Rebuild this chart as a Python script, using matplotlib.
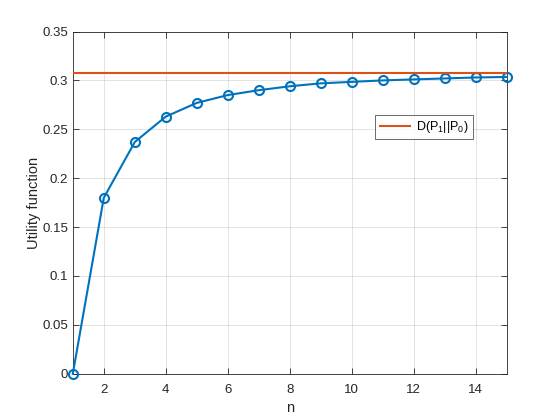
import matplotlib
matplotlib.use("Agg")
import matplotlib.pyplot as plt

n_values = list(range(1, 16))
utility = [0.0, 0.180, 0.237, 0.263, 0.277, 0.285, 0.290, 0.294, 0.297,
           0.2985, 0.300, 0.301, 0.302, 0.303, 0.3035]
kl_divergence = 0.3077
x_ticks = [2, 4, 6, 8, 10, 12, 14]
y_ticks = [0, 0.05, 0.1, 0.15, 0.2, 0.25, 0.3, 0.35]
y_tick_labels = ["0", "0.05", "0.1", "0.15", "0.2", "0.25", "0.3", "0.35"]

plt.rcParams['font.family'] = ['Liberation Sans', 'DejaVu Sans']
plt.rcParams['mathtext.fontset'] = 'custom'
plt.rcParams['mathtext.rm'] = 'Liberation Sans'
plt.rcParams['mathtext.it'] = 'Liberation Sans'
plt.rcParams['mathtext.bf'] = 'Liberation Sans'

fig = plt.figure(figsize=(5.6, 4.2), dpi=100)
ax = fig.add_axes([0.13, 0.11, 0.775, 0.815])

ax.plot(n_values, utility, color='#0072BD', linewidth=1.5, marker='o',
        markersize=6.5, markerfacecolor='none', markeredgewidth=1.5,
        clip_on=False, zorder=3)
ax.axhline(kl_divergence, color='#D95319', linewidth=1.5,
           label=r'D(P$_{\mathrm{1}}$||P$_{\mathrm{0}}$)', zorder=3)

ax.set_xlim(1, 15)
ax.set_ylim(0, 0.35)
ax.set_xticks(x_ticks)
ax.set_yticks(y_ticks)
ax.set_yticklabels(y_tick_labels)

ax.grid(True, color='#262626', alpha=0.15, linewidth=0.6)
ax.set_axisbelow(True)
ax.tick_params(direction='in', length=4, width=0.6, colors='#262626',
               labelsize=9.5, top=True, right=True)
ax.tick_params(axis='x', pad=7)
for s in ax.spines.values():
    s.set_color('#262626')
    s.set_linewidth(0.6)

ax.set_xlabel('n', fontsize=10.5, color='#262626', labelpad=4)
ax.set_ylabel('Utility function', fontsize=10.5, color='#262626', labelpad=1)

leg = ax.legend(loc='upper left', bbox_to_anchor=(0.697, 0.757),
                fontsize=9, frameon=True, fancybox=False, handlelength=2.4,
                borderpad=0.35, handletextpad=0.5, borderaxespad=0)
leg.get_frame().set_edgecolor('#262626')
leg.get_frame().set_linewidth(0.6)

fig.savefig('out.png', dpi=100)
